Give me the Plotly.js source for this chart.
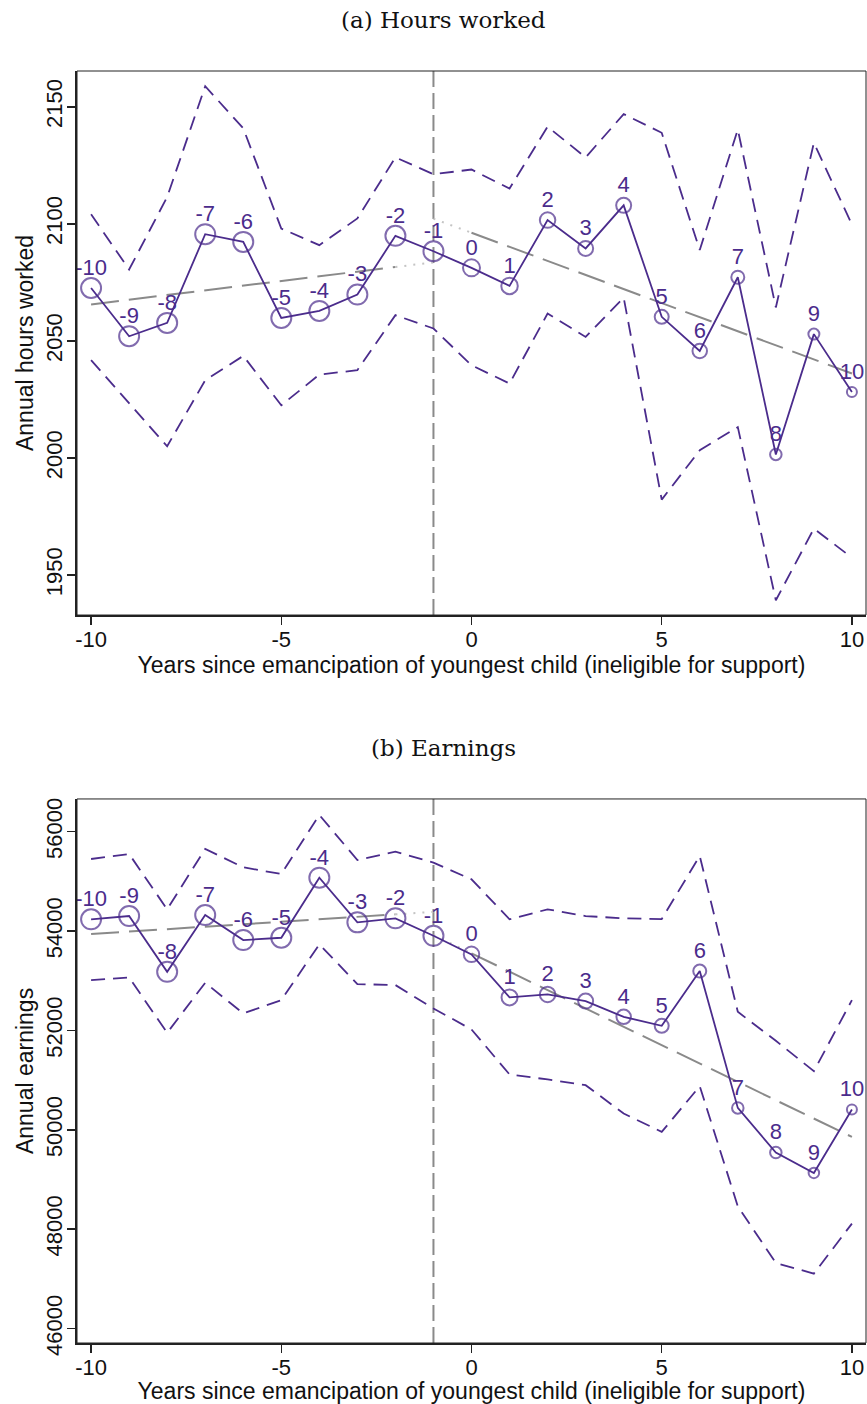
<!DOCTYPE html>
<html><head><meta charset="utf-8">
<script src="https://cdn.plot.ly/plotly-3.0.1.min.js"></script>
<style>html,body{margin:0;padding:0;background:#fff}#chart{width:867px;height:1404px}</style>
</head><body><div id="chart"></div>
<script>
// ---------- data ----------
const years = [-10,-9,-8,-7,-6,-5,-4,-3,-2,-1,0,1,2,3,4,5,6,7,8,9,10];
const pointLabels = years.map(String);

const hoursEst   = [2072.6,2052.0,2057.7,2095.6,2092.3,2059.8,2062.8,2069.8,2094.9,2088.3,2081.2,2073.5,2101.6,2089.5,2107.9,2060.3,2045.7,2077.2,2001.5,2052.9,2028.2];
const hoursUpper = [2104.1,2080.5,2111.5,2158.8,2140.8,2098.0,2090.9,2102.3,2128.4,2121.2,2123.2,2115.1,2141.5,2128.4,2146.9,2138.9,2088.8,2140.3,2064.3,2134.6,2099.7];
const hoursLower = [2041.8,2023.4,2005.0,2033.2,2043.6,2022.5,2035.6,2037.5,2061.0,2055.3,2039.6,2031.8,2061.7,2051.7,2068.5,1982.2,2003.3,2013.2,1939.2,1969.8,1957.4];

const earnEst   = [54236,54302,53180,54322,53819,53865,55074,54175,54256,53905,53531,52665,52725,52590,52274,52093,53195,50441,49543,49132,50409];
const earnUpper = [55450,55551,54437,55652,55283,55148,56336,55430,55597,55376,55041,54236,54437,54302,54256,54242,55511,52375,51791,51180,52610];
const earnLower = [53013,53067,51952,52959,52343,52610,53732,52933,52913,52443,52020,51114,51013,50898,50328,49958,50878,48461,47320,47106,48113];

// linear trend fits (read at their end / break points)
const preTrendYears  = [-10,-2,-1];
const postTrendYears = [-1,0,10];
const hoursPreTrend  = [2065.6,2081.6,2083.5];
const hoursPostTrend = [2102.2,2096.2,2036.1];
const earnPreTrend   = [53939,54336,54386];
const earnPostTrend  = [53920,53551,49857];

const eventYear = -1;

const xTicks = [-10,-5,0,5,10];
const xTickText = ['-10','-5','0','5','10'];
const hoursTicks = [1950,2000,2050,2100,2150];
const earnTicks = [46000,48000,50000,52000,54000,56000];

const panelTitles = ['(a) Hours worked','(b) Earnings'];
const xTitle = 'Years since emancipation of youngest child (ineligible for support)';
const yTitles = ['Annual hours worked','Annual earnings'];

// ---------- style ----------
const purple = '#4b2c8c';
const trendGray = '#8a8a8a';
const dotGray = '#c4c4c4';
const axisCol = '#222';
const hoursMarkerSize = [20,20,20,20,20,20,20,20,20,20,17,16.5,15.5,15,15,14,14.5,13,11.5,11,10];
const earnMarkerSize  = [20,20,20,20,20,20,20,20,20,20,15.5,16,15.5,15,14.5,14,13,11.5,11.5,10.5,10];
const TICKFS = 22;
const TITLEFS = 23;

function panel(xa, ya, est, up, lo, pre, post, msize) {
  const t = [];
  t.push({x:years, y:up, xaxis:xa, yaxis:ya, mode:'lines', line:{color:purple, width:1.8, dash:'14px,8px'}, hoverinfo:'skip'});
  t.push({x:years, y:lo, xaxis:xa, yaxis:ya, mode:'lines', line:{color:purple, width:1.8, dash:'14px,8px'}, hoverinfo:'skip'});
  t.push({x:preTrendYears.slice(0,2), y:pre.slice(0,2), xaxis:xa, yaxis:ya, mode:'lines', line:{color:trendGray, width:2, dash:'28px,10px'}, hoverinfo:'skip'});
  t.push({x:preTrendYears.slice(1), y:pre.slice(1), xaxis:xa, yaxis:ya, mode:'lines', line:{color:dotGray, width:2, dash:'2px,7px'}, hoverinfo:'skip'});
  t.push({x:postTrendYears.slice(0,2), y:post.slice(0,2), xaxis:xa, yaxis:ya, mode:'lines', line:{color:dotGray, width:2, dash:'2px,7px'}, hoverinfo:'skip'});
  t.push({x:postTrendYears.slice(1), y:post.slice(1), xaxis:xa, yaxis:ya, mode:'lines', line:{color:trendGray, width:2, dash:'28px,10px'}, hoverinfo:'skip'});
  t.push({x:years, y:est, xaxis:xa, yaxis:ya, mode:'lines+markers', line:{color:purple, width:1.8},
          marker:{symbol:'circle-open', size:msize, color:purple, line:{width:2}}});
  t.push({x:years, y:est, xaxis:xa, yaxis:ya, mode:'markers+text', text:pointLabels, textposition:'top center',
          textfont:{size:22, color:purple, family:'Liberation Sans, Arial, sans-serif'},
          marker:{size:10.6, color:'rgba(0,0,0,0)'}, cliponaxis:true, hoverinfo:'skip'});
  return t;
}

const data = [].concat(
  panel('x','y', hoursEst, hoursUpper, hoursLower, hoursPreTrend, hoursPostTrend, hoursMarkerSize),
  panel('x2','y2', earnEst, earnUpper, earnLower, earnPreTrend, earnPostTrend, earnMarkerSize)
);

function xax(anchor) {
  return {anchor:anchor, domain:[0,1], range:[-10.37,10.37], tickmode:'array', tickvals:xTicks, ticktext:xTickText,
    ticks:'outside', ticklen:8, tickwidth:1.5,
    tickcolor:axisCol, showline:true, linewidth:2, linecolor:axisCol, showgrid:false, zeroline:false,
    tickfont:{size:TICKFS, color:'#111'}, ticklabelstandoff:-4,
    title:{text:xTitle, font:{size:TITLEFS, color:'#111'}, standoff:2}};
}
function yax(anchor, dom, rng, ticks, title) {
  return {anchor:anchor, domain:dom, range:rng, tickmode:'array', tickvals:ticks, ticktext:ticks.map(String),
    ticks:'outside', ticklen:8, tickwidth:1.5,
    tickcolor:axisCol, showline:true, linewidth:2, linecolor:axisCol, showgrid:false, zeroline:false,
    tickangle:-90, tickfont:{size:TICKFS, color:'#111'}, ticklabelstandoff:-4,
    title:{text:title, font:{size:TITLEFS, color:'#111'}, standoff:2}};
}

const layout = {
  width:867, height:1404, showlegend:false,
  paper_bgcolor:'#fff', plot_bgcolor:'#fff',
  font:{family:'Liberation Sans, Arial, sans-serif', size:TICKFS, color:'#111'},
  margin:{l:77, r:1, t:71, b:61},
  xaxis: xax('y'),
  yaxis: yax('x', [0.5723,1], [1932.9,2165.3], hoursTicks, yTitles[0]),
  xaxis2: xax('y2'),
  yaxis2: yax('x2', [0,0.4277], [45710,56658], earnTicks, yTitles[1]),
  shapes:[
    {type:'rect', xref:'x domain', yref:'y domain', x0:0, x1:1, y0:0, y1:1, line:{color:axisCol, width:1}},
    {type:'rect', xref:'x2 domain', yref:'y2 domain', x0:0, x1:1, y0:0, y1:1, line:{color:axisCol, width:1}},
    {type:'line', xref:'x', yref:'y domain', x0:eventYear, x1:eventYear, y0:0, y1:1, line:{color:trendGray, width:2, dash:'16px,6px'}, layer:'below'},
    {type:'line', xref:'x2', yref:'y2 domain', x0:eventYear, x1:eventYear, y0:0, y1:1, line:{color:trendGray, width:2, dash:'16px,6px'}, layer:'below'}
  ],
  annotations:[
    {text:panelTitles[0], xref:'paper', yref:'paper', x:0.4651, y:1.0401, xanchor:'center', yanchor:'middle', showarrow:false,
     font:{family:'DejaVu Serif, serif', size:23, color:'#111'}},
    {text:panelTitles[1], xref:'paper', yref:'paper', x:0.4651, y:0.4678, xanchor:'center', yanchor:'middle', showarrow:false,
     font:{family:'DejaVu Serif, serif', size:23, color:'#111'}}
  ]
};

Plotly.newPlot('chart', data, layout, {staticPlot:true, displayModeBar:false});
</script></body></html>
